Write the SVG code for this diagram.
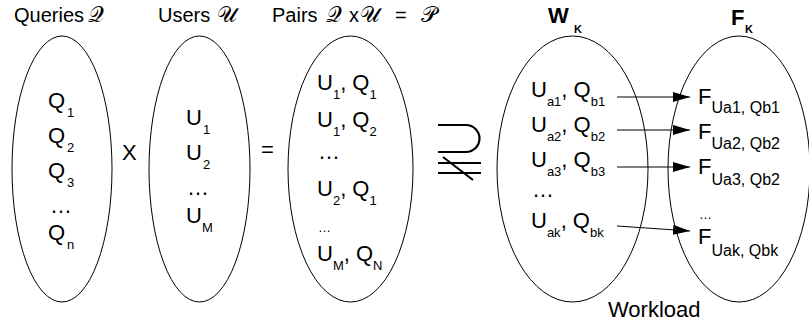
<svg xmlns="http://www.w3.org/2000/svg" width="809" height="328" viewBox="0 0 809 328">
<style>
.e{fill:none;stroke:#000;stroke-width:1}
text{font-family:"Liberation Sans",Arial,sans-serif;fill:#000}
.t{font-size:20px}
.m{font-size:22px}
.s{font-size:13px}
.fs{font-size:16px}
.sc{font-family:"DejaVu Serif","DejaVu Sans","Noto Sans",serif;font-size:22px}
.b{font-weight:bold}
.c{stroke:#000;stroke-width:1;fill:none}
.sym{stroke:#000;stroke-width:2.2;fill:none}
</style>
<defs>
<marker id="ah" markerUnits="userSpaceOnUse" markerWidth="18" markerHeight="11" refX="17" refY="5" orient="auto">
<path d="M0,0 L17,5 L0,10 z" fill="#000"/>
</marker>
</defs>

<g id="titles">
<text class="t" x="14" y="22">Queries</text><text class="sc" x="88" y="22">𝒬</text>
<text class="t" x="158" y="22">Users</text><text class="sc" x="217" y="22">𝒰</text>
<text class="t" x="272" y="22">Pairs</text><text class="sc" x="326" y="22">𝒬</text><text class="t" x="349" y="22">x</text><text class="sc" x="360" y="22">𝒰</text><text class="t" x="395" y="22">=</text><text class="sc" x="421" y="22">𝒫</text>
</g>

<g id="queries">
<ellipse class="e" cx="62" cy="169" rx="50" ry="133"/>
<text class="m" x="48" y="108">Q</text><text class="s" x="67" y="117">1</text>
<text class="m" x="48" y="143">Q</text><text class="s" x="67" y="152">2</text>
<text class="m" x="48" y="178">Q</text><text class="s" x="67" y="187">3</text>
<text class="m" x="50" y="213">…</text>
<text class="m" x="48" y="240">Q</text><text class="s" x="67" y="249">n</text>
</g>

<text class="m" x="122" y="160">X</text>

<g id="users">
<ellipse class="e" cx="199.5" cy="169" rx="50.5" ry="133"/>
<text class="m" x="186" y="125">U</text><text class="s" x="203" y="134">1</text>
<text class="m" x="186" y="160">U</text><text class="s" x="203" y="169">2</text>
<text class="m" x="187" y="195">…</text>
<text class="m" x="186" y="223">U</text><text class="s" x="202" y="232">M</text>
</g>

<text class="m" x="261" y="157">=</text>

<g id="pairs">
<ellipse class="e" cx="350.5" cy="169" rx="62.5" ry="133"/>
<text x="317" y="90"><tspan class="m">U</tspan><tspan class="s" dy="9">1</tspan><tspan class="m" dy="-9">, Q</tspan><tspan class="s" dy="9">1</tspan></text>
<text x="317" y="127"><tspan class="m">U</tspan><tspan class="s" dy="9">1</tspan><tspan class="m" dy="-9">, Q</tspan><tspan class="s" dy="9">2</tspan></text>
<text class="m" x="318" y="159">…</text>
<text x="317" y="196"><tspan class="m">U</tspan><tspan class="s" dy="9">2</tspan><tspan class="m" dy="-9">, Q</tspan><tspan class="s" dy="9">1</tspan></text>
<text class="s" x="318" y="232">…</text>
<text x="317" y="261"><tspan class="m">U</tspan><tspan class="s" dy="9">M</tspan><tspan class="m" dy="-9">, Q</tspan><tspan class="s" dy="9">N</tspan></text>
</g>

<g id="not-superset">
<path class="sym" d="M438,125 H466 A13.5,13.5 0 0 1 466,152 H438"/>
<path class="sym" d="M438,163 H481 M438,173 H481 M443,157 L473,180"/>
</g>

<g id="workload-w">
<text class="b" x="548" y="23" style="font-size:22px">W</text><text class="b" x="574" y="33" style="font-size:11px">K</text>
<ellipse class="e" cx="572.5" cy="169" rx="75.5" ry="133"/>
<text x="531" y="97"><tspan class="m">U</tspan><tspan class="s" dy="9">a1</tspan><tspan class="m" dy="-9">, Q</tspan><tspan class="s" dy="9">b1</tspan></text>
<text x="531" y="132"><tspan class="m">U</tspan><tspan class="s" dy="9">a2</tspan><tspan class="m" dy="-9">, Q</tspan><tspan class="s" dy="9">b2</tspan></text>
<text x="531" y="167"><tspan class="m">U</tspan><tspan class="s" dy="9">a3</tspan><tspan class="m" dy="-9">, Q</tspan><tspan class="s" dy="9">b3</tspan></text>
<text class="m" x="532" y="197">…</text>
<text x="531" y="228"><tspan class="m">U</tspan><tspan class="s" dy="9">ak</tspan><tspan class="m" dy="-9">, Q</tspan><tspan class="s" dy="9">bk</tspan></text>
</g>

<g id="workload-f">
<text class="b" x="731" y="25" style="font-size:22px">F</text><text class="b" x="745" y="33" style="font-size:11px">K</text>
<ellipse class="e" cx="739" cy="169" rx="71" ry="133"/>
<text x="698" y="104"><tspan class="m">F</tspan><tspan class="fs" dy="9">Ua1, Qb1</tspan></text>
<text x="698" y="139"><tspan class="m">F</tspan><tspan class="fs" dy="10">Ua2, Qb2</tspan></text>
<text x="698" y="174"><tspan class="m">F</tspan><tspan class="fs" dy="11">Ua3, Qb2</tspan></text>
<text class="s" x="699" y="219">…</text>
<text x="698" y="244"><tspan class="m">F</tspan><tspan class="fs" dy="12">Uak, Qbk</tspan></text>
</g>

<text x="608" y="317" style="font-size:22px">Workload</text>

<g id="connectors">
<line class="c" x1="617" y1="97" x2="690" y2="97" marker-end="url(#ah)"/>
<line class="c" x1="617" y1="130" x2="690" y2="130" marker-end="url(#ah)"/>
<line class="c" x1="617" y1="167" x2="690" y2="167" marker-end="url(#ah)"/>
<line class="c" x1="617" y1="226" x2="690" y2="231" marker-end="url(#ah)"/>
</g>
</svg>
